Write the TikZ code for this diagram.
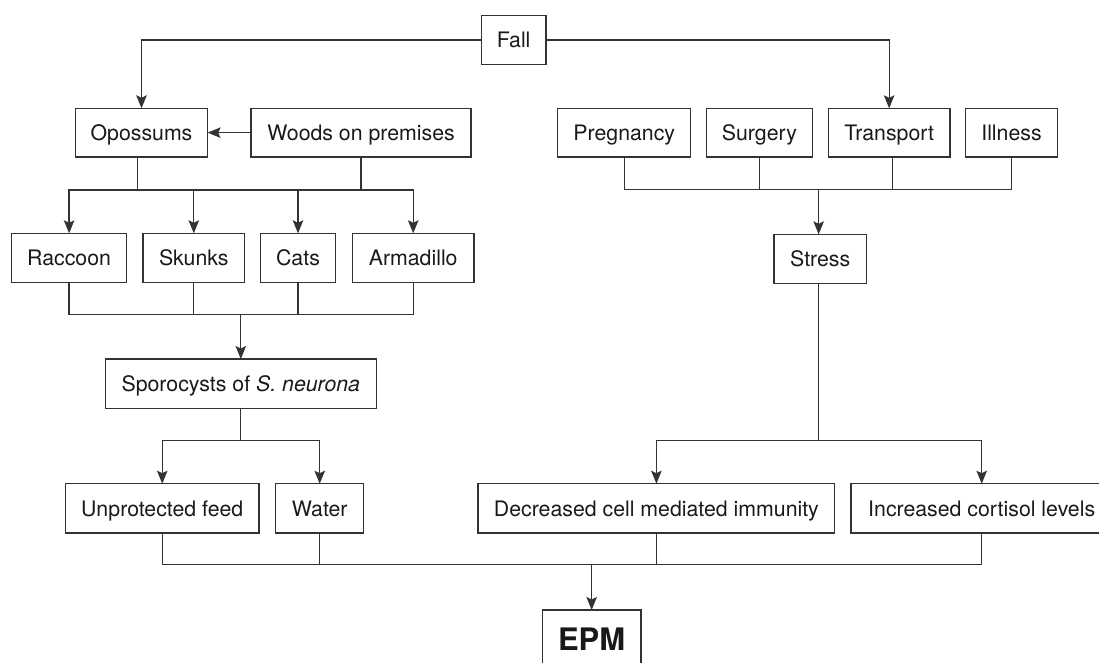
\documentclass[tikz,border=0pt]{standalone}
\usepackage{fontspec}
\setmainfont{TeX Gyre Heros}
\usetikzlibrary{arrows.meta}

\begin{document}
\begin{tikzpicture}[x=1pt,y=-1pt,
  box/.style={draw=black!80, line width=1.3pt, text=black!90, inner sep=0pt,
    outer sep=0pt, font=\fontsize{21.3}{25}\selectfont,
    text height=15.3pt, text depth=0pt},
  link/.style={draw=black!80, line width=1.3pt, line join=miter},
  tip/.tip={Stealth[length=13pt, width=10.5pt, inset=2.5pt]},
  arr/.style={link, -tip},
  arrs/.style={link, tip-tip},
]
\useasboundingbox (0,0) rectangle (1099,662);
\clip (0,0) rectangle (1099,662);

% top
\node[box, minimum width=64.9, minimum height=48.6] (Fall) at (513.65,40) {Fall};

% first row
\node[box, minimum width=132.2, minimum height=48.7] (Opossums) at (141.5,132.65) {Opossums};
\node[box, minimum width=220, minimum height=48.7] (Woods) at (361.1,132.65) {Woods on premises};
\node[box, minimum width=133.1, minimum height=48.7] (Pregnancy) at (624.25,132.65) {Pregnancy};
\node[box, minimum width=105.8, minimum height=48.7] (Surgery) at (759.4,132.65) {Surgery};
\node[box, minimum width=121.5, minimum height=48.7] (Transport) at (889.15,132.65) {Transport};
\node[box, minimum width=91.8, minimum height=48.7] (Illness) at (1011.5,132.65) {Illness};

% hosts and stress
\node[box, minimum width=115, minimum height=49.4] (Raccoon) at (69.1,258) {Raccoon};
\node[box, minimum width=101.4, minimum height=49.4] (Skunks) at (193.8,258) {Skunks};
\node[box, minimum width=75.4, minimum height=49.4] (Cats) at (298,258) {Cats};
\node[box, minimum width=121.4, minimum height=49.4] (Armadillo) at (413.2,258) {Armadillo};
\node[box, minimum width=92.1, minimum height=49.4] (Stress) at (820.15,259) {Stress};

% sporocysts
\node[box, minimum width=271.2, minimum height=49.3] (Sporo) at (240.8,383.65) {Sporocysts of \textit{S. neurona}};

% routes and effects
\node[box, minimum width=193.3, minimum height=49.3] (Feed) at (162.25,508.35) {Unprotected feed};
\node[box, minimum width=88, minimum height=49.3] (Water) at (319.7,508.35) {Water};
\node[box, minimum width=356.6, minimum height=49.3] (Immunity) at (656.4,508.35) {Decreased cell mediated immunity};
\node[box, minimum width=261.2, minimum height=49.3] (Cortisol) at (981.7,508.35) {Increased cortisol levels};

% outcome
\node[box, minimum width=98.7, minimum height=58, font=\fontsize{31}{36}\selectfont\bfseries,
  text height=22pt] (EPM) at (591.65,639) {EPM};

% junction levels
\coordinate (jA) at (0,190);
\coordinate (jB) at (0,189.3);
\coordinate (jC) at (0,314.3);
\coordinate (jD) at (0,440.3);
\coordinate (jE) at (0,564.3);

% Fall branches
\draw[arr] (Fall.west) -| (Opossums.north);
\draw[arr] (Fall.east) -| (Transport.north);
\draw[arr] (Woods.west) -- (Opossums.east);

% opossums / woods to hosts
\draw[link] ([xshift=-4pt]Opossums.south) -- ([xshift=-4pt]Opossums.south |- jA);
\draw[link] (Woods.south) -- (Woods.south |- jA);
\draw[arrs] (Raccoon.north) |- (Armadillo.north |- jA) -- (Armadillo.north);
\foreach \n in {Skunks,Cats}
  \draw[arr] (\n.north |- jA) -- (\n.north);

% hosts to sporocysts
\draw[link] (Raccoon.south) |- (Armadillo.south |- jC) -- (Armadillo.south);
\foreach \n in {Skunks,Cats}
  \draw[link] (\n.south) -- (\n.south |- jC);
\draw[arr] (Sporo.north |- jC) -- (Sporo.north);

% sporocysts to feed and water
\draw[link] (Sporo.south) -- (Sporo.south |- jD);
\draw[arrs] (Feed.north) |- (Water.north |- jD) -- (Water.north);

% stressors to stress
\draw[link] (Pregnancy.south) |- (Illness.south |- jB) -- (Illness.south);
\draw[link] (Surgery.south) -- (Surgery.south |- jB);
\draw[link] ([xshift=3.5pt]Transport.south) -- ([xshift=3.5pt]Transport.south |- jB);
\draw[arr] ([xshift=-1.5pt]Stress.north |- jB) -- ([xshift=-1.5pt]Stress.north);

% stress to its effects
\draw[link] ([xshift=-1.5pt]Stress.south) -- ([xshift=-1.5pt]Stress.south |- jD);
\draw[arrs] (Immunity.north) |- (Cortisol.north |- jD) -- (Cortisol.north);

% everything to EPM
\draw[link] (Feed.south) |- (Cortisol.south |- jE) -- (Cortisol.south);
\foreach \n in {Water,Immunity}
  \draw[link] (\n.south) -- (\n.south |- jE);
\draw[arr] (EPM.north |- jE) -- (EPM.north);
\end{tikzpicture}
\end{document}
